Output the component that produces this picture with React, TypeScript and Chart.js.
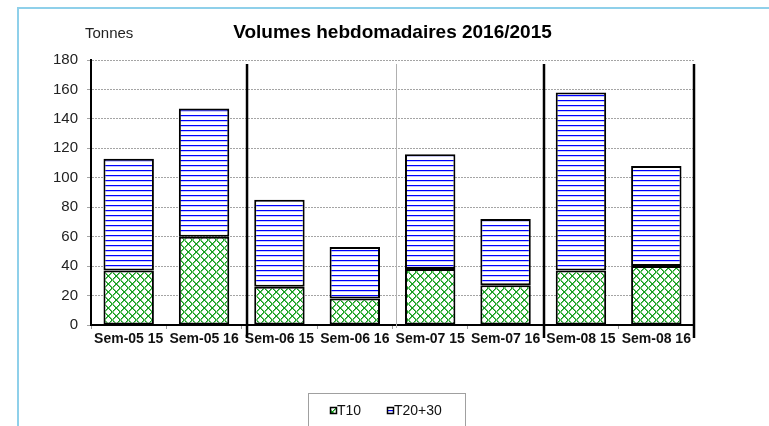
import React, { useEffect, useRef } from "react";
import { Chart, registerables } from "chart.js";

Chart.register(...registerables);

const categories = ["Sem-05 15", "Sem-05 16", "Sem-06 15", "Sem-06 16", "Sem-07 15", "Sem-07 16", "Sem-08 15", "Sem-08 16"];
const t10 = [37, 60, 26, 18, 38, 27, 37, 40];
const t2030 = [76, 87, 59, 35, 78, 45, 121, 68];
const seriesLabels = ["T10", "T20+30"];
const yTicks = { min: 0, max: 180, step: 20 };
const titleText = "Volumes hebdomadaires 2016/2015";
const unitText = "Tonnes";
// separators in category-scale units
const separators = [
  { at: 1.57, thick: true },
  { at: 3.55, thick: false },
  { at: 5.51, thick: true },
  { at: 7.5, thick: true },
];

const FONT = '"Liberation Sans", Arial, sans-serif';

function makeStripes(): CanvasPattern | string {
  const c = document.createElement("canvas");
  c.width = 8;
  c.height = 5;
  const x = c.getContext("2d")!;
  x.fillStyle = "#ffffff";
  x.fillRect(0, 0, 8, 5);
  x.fillStyle = "#0000ff";
  x.fillRect(0, 0, 8, 1);
  x.fillStyle = "#c8c8ff";
  x.fillRect(0, 1, 8, 1);
  return x.createPattern(c, "repeat") || "#0000ff";
}

function makeWeave(): CanvasPattern | string {
  const c = document.createElement("canvas");
  c.width = 8;
  c.height = 8;
  const x = c.getContext("2d")!;
  x.fillStyle = "#ffffff";
  x.fillRect(0, 0, 8, 8);
  const dark = "#129a1e";
  const light = "#6cc86c";
  const put = (px: number, py: number, col: string) => {
    x.fillStyle = col;
    x.fillRect(((px % 8) + 8) % 8, ((py % 8) + 8) % 8, 1, 1);
  };
  const blockA = (ox: number, oy: number) => {
    for (let i = 0; i < 4; i++) {
      put(ox + i, oy + i, dark);
      put(ox + i + 1, oy + i, light);
    }
  };
  const blockB = (ox: number, oy: number) => {
    for (let i = 0; i < 4; i++) {
      put(ox + 3 - i, oy + i, dark);
      put(ox + 4 - i, oy + i, light);
    }
  };
  blockA(0, 0);
  blockB(4, 0);
  blockB(0, 4);
  blockA(4, 4);
  return x.createPattern(c, "repeat") || "#2e9e2e";
}

export default function App() {
  const ref = useRef<HTMLCanvasElement | null>(null);

  useEffect(() => {
    if (!ref.current) return;
    const stripes = makeStripes();
    const weave = makeWeave();

    const decor = {
      id: "decor",
      beforeDraw(chart: any) {
        const ctx = chart.ctx;
        ctx.save();
        ctx.fillStyle = "#ffffff";
        ctx.fillRect(0, 0, chart.width, chart.height);
        ctx.fillStyle = "#8fd0ea";
        ctx.fillRect(17, 7, chart.width - 17, 2);
        ctx.fillRect(17, 7, 2, chart.height - 7);
        ctx.restore();
      },
      afterDraw(chart: any) {
        const ctx = chart.ctx;
        const xs = chart.scales.x;
        const ys = chart.scales.y;
        const area = chart.chartArea;
        ctx.save();
        separators.forEach((s) => {
          const px = xs.getPixelForValue(s.at);
          ctx.beginPath();
          if (s.thick) {
            ctx.strokeStyle = "#000000";
            ctx.lineWidth = 2.5;
            ctx.moveTo(px, ys.getPixelForValue(177.3));
            ctx.lineTo(px, area.bottom + 13);
          } else {
            ctx.strokeStyle = "#b0b0b0";
            ctx.lineWidth = 1;
            ctx.moveTo(Math.round(px) + 0.5, ys.getPixelForValue(177.3));
            ctx.lineTo(Math.round(px) + 0.5, area.bottom + 3);
          }
          ctx.stroke();
        });
        ctx.fillStyle = "#000000";
        ctx.font = `bold 19px ${FONT}`;
        ctx.textAlign = "center";
        ctx.textBaseline = "alphabetic";
        ctx.fillText(titleText, 392.5, 38);
        ctx.fillStyle = "#222222";
        ctx.font = `15px ${FONT}`;
        ctx.textAlign = "left";
        ctx.fillText(unitText, 85, 38);
        ctx.strokeStyle = "#a0a0a0";
        ctx.lineWidth = 1;
        ctx.strokeRect(308.5, 393.5, 157, 60);
        const fills = [weave, stripes];
        const itemX = [330, 387];
        seriesLabels.forEach((lab, i) => {
          ctx.fillStyle = fills[i];
          ctx.fillRect(itemX[i], 407, 7, 7);
          ctx.strokeStyle = "#000000";
          ctx.lineWidth = 1.5;
          ctx.strokeRect(itemX[i] + 0.5, 407.5, 6, 6);
          ctx.fillStyle = "#111111";
          ctx.font = `14px ${FONT}`;
          ctx.textAlign = "left";
          ctx.textBaseline = "middle";
          ctx.fillText(lab, itemX[i] + 7, 411);
        });
        ctx.restore();
      },
    };

    const chart = new Chart(ref.current, {
      type: "bar",
      data: {
        labels: categories,
        datasets: [
          {
            label: seriesLabels[0],
            data: t10,
            backgroundColor: weave as any,
            borderColor: "#000000",
            borderWidth: 2,
            borderSkipped: false,
          },
          {
            label: seriesLabels[1],
            data: t2030,
            backgroundColor: stripes as any,
            borderColor: "#000000",
            borderWidth: 2,
            borderSkipped: false,
          },
        ],
      },
      options: {
        responsive: false,
        animation: false,
        devicePixelRatio: 1,
        layout: { padding: { left: 0, right: 75, top: 60, bottom: 0 } },
        datasets: { bar: { categoryPercentage: 1, barPercentage: 0.669 } },
        plugins: {
          legend: { display: false },
          title: { display: false },
          tooltip: { enabled: false },
        },
        scales: {
          x: {
            stacked: true,
            offset: true,
            afterFit: (s: any) => {
              s.height = 101;
            },
            grid: {
              display: true,
              offset: true,
              drawOnChartArea: false,
              drawTicks: true,
              tickLength: 4,
              color: "#999999",
            },
            border: { display: true, color: "#000000", width: 2 },
            ticks: {
              color: "#111111",
              font: { family: FONT, size: 14, weight: "bold" },
              padding: 2,
              maxRotation: 0,
              autoSkip: false,
            },
          },
          y: {
            stacked: true,
            min: yTicks.min,
            max: yTicks.max,
            afterFit: (s: any) => {
              s.width = 91;
            },
            grid: {
              color: "#a4a4a4",
              tickLength: 4,
              drawTicks: true,
            },
            border: { display: true, color: "#000000", width: 2, dash: [2, 1] },
            ticks: {
              stepSize: yTicks.step,
              color: "#222222",
              font: { family: FONT, size: 15 },
              padding: 9,
            },
          },
        },
      },
      plugins: [decor],
    } as any);

    return () => chart.destroy();
  }, []);

  return (
    <div style={{ position: "fixed", left: 0, top: 0, width: 769, height: 426, background: "#fff" }}>
      <canvas ref={ref} width={769} height={426} style={{ display: "block", width: 769, height: 426 }} />
    </div>
  );
}
